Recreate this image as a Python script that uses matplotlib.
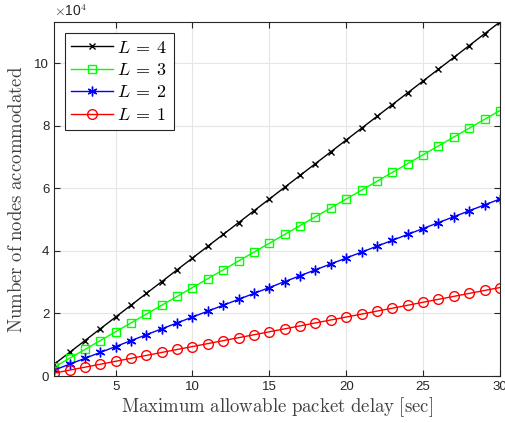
import matplotlib
matplotlib.use("Agg")
import matplotlib.pyplot as plt
from matplotlib.ticker import FuncFormatter

plt.rcParams['mathtext.fontset'] = 'cm'
plt.rcParams['font.family'] = ['Liberation Sans', 'DejaVu Sans']

delay = list(range(1, 31))
L1 = [940, 1890, 2830, 3770, 4720, 5660, 6600, 7540, 8490, 9430,
      10370, 11320, 12260, 13200, 14150, 15090, 16030, 16980, 17920, 18860,
      19800, 20750, 21690, 22630, 23580, 24520, 25460, 26410, 27350, 28290]
L2 = [1890, 3770, 5660, 7540, 9430, 11320, 13200, 15090, 16980, 18860,
      20750, 22630, 24520, 26410, 28290, 30180, 32060, 33950, 35840, 37720,
      39610, 41490, 43380, 45260, 47150, 49040, 50920, 52810, 54700, 56580]
L3 = [2830, 5660, 8490, 11320, 14150, 16980, 19800, 22630, 25460, 28290,
      31120, 33950, 36780, 39610, 42440, 45260, 48090, 50920, 53750, 56580,
      59410, 62240, 65070, 67900, 70730, 73550, 76380, 79210, 82040, 84870]
L4 = [3770, 7540, 11320, 15090, 18860, 22630, 26410, 30180, 33950, 37720,
      41490, 45260, 49040, 52810, 56580, 60350, 64120, 67900, 71670, 75440,
      79210, 82980, 86760, 90530, 94300, 98070, 101840, 105610, 109390, 113160]
series = [(L4, 'k', 'x', 5, r'$L\:=\:4$'), (L3, '#00ff00', 's', 5.5, r'$L\:=\:3$'),
          (L2, 'b', (6, 2, 0), 7, r'$L\:=\:2$'), (L1, 'r', 'o', 7, r'$L\:=\:1$')]

fig = plt.figure(figsize=(5.06, 4.23), dpi=100)
ax = fig.add_axes([0.107, 0.111, 0.881, 0.837])
for vals, c, m, ms, lab in series:
    ax.plot(delay, vals, color=c, marker=m, markersize=ms,
            markerfacecolor='none', markeredgecolor=c, linewidth=1.0,
            markeredgewidth=1.0, label=lab)

ax.set_xlim(1, 30)
ax.set_ylim(0, max(L4))
ax.set_xticks([5, 10, 15, 20, 25, 30])
ax.set_yticks([0, 20000, 40000, 60000, 80000, 100000])
ax.yaxis.set_major_formatter(FuncFormatter(lambda v, p: '%g' % (v / 1e4)))
ax.text(0.0, 1.008, r'$\times$10$^4$', transform=ax.transAxes, fontsize=10,
        color='#262626', ha='left', va='bottom')
ax.grid(True, color='#e6e6e6', linewidth=0.8)
ax.set_axisbelow(True)
ax.tick_params(direction='in', top=True, right=True, labelsize=9.5,
               colors='#262626', length=4)
for s in ax.spines.values():
    s.set_color('#262626')
    s.set_linewidth(0.8)

ax.set_xlabel(r'$\mathrm{Maximum\ allowable\ packet\ delay\ [sec]}$',
              fontsize=13.5, color='#404040', labelpad=2)
ax.set_ylabel(r'$\mathrm{Number\ of\ nodes\ accommodated}$',
              fontsize=13.5, color='#404040', labelpad=6)

leg = ax.legend(loc='upper left', fontsize=13, fancybox=False,
                edgecolor='#262626', framealpha=1, handlelength=2.3,
                borderpad=0.35, labelspacing=0.3, handletextpad=0.25,
                borderaxespad=0, bbox_to_anchor=(0.024, 0.968))
leg.get_frame().set_linewidth(0.8)

fig.savefig('out.png', dpi=100)
